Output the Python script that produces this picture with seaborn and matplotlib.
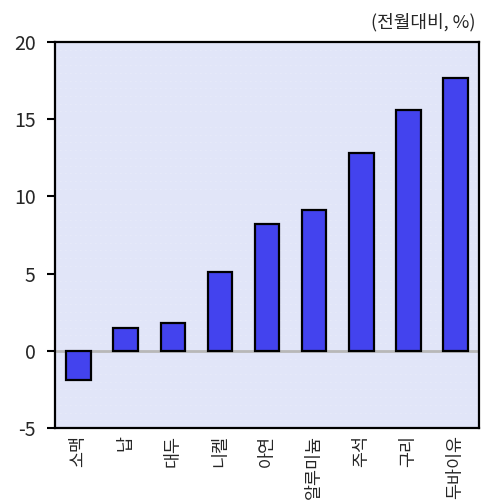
import matplotlib
matplotlib.use("Agg")
import matplotlib.pyplot as plt
import seaborn as sns
import pandas as pd

# Monthly change by commodity
categories = ["소맥", "납", "대두", "니켈", "아연", "알루미늄", "주석", "구리", "두바이유"]
values = [-1.9, 1.5, 1.8, 5.1, 8.2, 9.1, 12.8, 15.6, 17.7]
y_ticks = [-5, 0, 5, 10, 15, 20]
unit_label = "(전월대비, %)"

df = pd.DataFrame({"품목": categories, "변화율": values})

sns.set_theme(style="white")
plt.rcParams["font.family"] = ["Noto Sans CJK KR", "DejaVu Sans"]
plt.rcParams["axes.unicode_minus"] = False

fig = plt.figure(figsize=(4.83, 5.0), dpi=100)
fig.patch.set_facecolor("white")
ax = fig.add_axes([0.114, 0.144, 0.878, 0.772])
ax.set_facecolor("#E1E5F8")

sns.barplot(data=df, x="품목", y="변화율", color="#4343EE", saturation=1,
            width=0.52, edgecolor="black", linewidth=1.6, ax=ax, zorder=3)

ax.axhline(0, color="#B8B8B8", linewidth=2, zorder=2)

# faint dotted texture over the plot area
ax.set_yticks(y_ticks)
ax.set_yticks([v / 2 for v in range(-10, 41)], minor=True)
ax.grid(which="minor", axis="y", color="white", linestyle=(0, (1, 5)),
        linewidth=0.6, alpha=0.45, zorder=1)
ax.grid(which="major", axis="y", visible=False)
ax.set_ylim(-5, 20)
ax.set_xlim(-0.5, len(categories) - 0.5)

ax.set_xlabel("")
ax.set_ylabel("")
ax.set_xticks(range(len(categories)))
ax.set_xticklabels(categories, rotation=90, fontsize=12.5, va="top")
ax.tick_params(axis="x", length=0, pad=5)
ax.tick_params(axis="y", which="major", left=True, length=6, width=1.5, color="black",
               labelsize=14, pad=8)
ax.tick_params(axis="y", which="minor", left=False)

for side in ["left", "top", "bottom", "right"]:
    ax.spines[side].set_visible(True)
    ax.spines[side].set_color("black")
    ax.spines[side].set_linewidth(1.6)

fig.text(0.985, 0.955, unit_label, ha="right", va="center", fontsize=13)

fig.savefig("out.png", dpi=100)
